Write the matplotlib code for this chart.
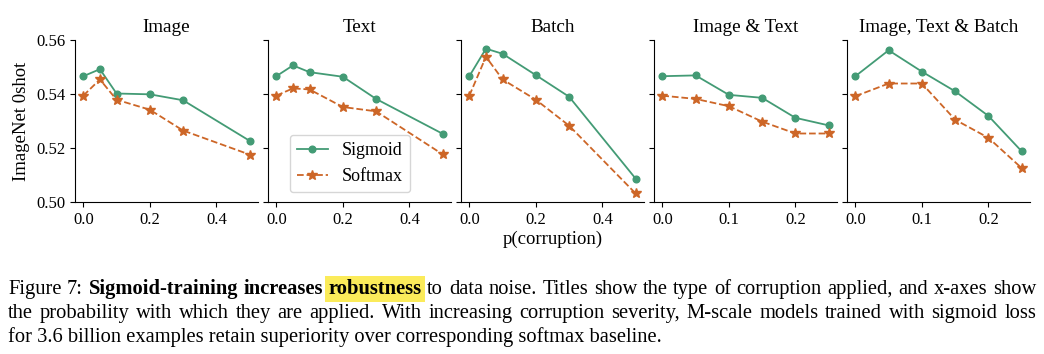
import numpy as np
import matplotlib
matplotlib.use('Agg')
import matplotlib.pyplot as plt

# values
titles = ['Image', 'Text', 'Batch', 'Image & Text', 'Image, Text & Batch']
p_long = [0.0, 0.05, 0.1, 0.2, 0.3, 0.5]
p_short = [0.0, 0.05, 0.1, 0.15, 0.2, 0.25]
xs = [p_long, p_long, p_long, p_short, p_short]

sigmoid = [
    [0.5466, 0.5492, 0.5402, 0.5399, 0.5377, 0.5227],
    [0.5466, 0.5506, 0.5481, 0.5464, 0.5382, 0.5253],
    [0.5466, 0.5568, 0.5549, 0.5470, 0.5390, 0.5087],
    [0.5466, 0.5469, 0.5397, 0.5386, 0.5312, 0.5284],
    [0.5466, 0.5562, 0.5483, 0.5410, 0.5319, 0.5188],
]
softmax = [
    [0.5394, 0.5454, 0.5379, 0.5342, 0.5265, 0.5176],
    [0.5394, 0.5421, 0.5417, 0.5352, 0.5336, 0.5177],
    [0.5394, 0.5538, 0.5454, 0.5379, 0.5283, 0.5032],
    [0.5394, 0.5382, 0.5355, 0.5298, 0.5254, 0.5254],
    [0.5392, 0.5439, 0.5439, 0.5305, 0.5238, 0.5126],
]
yticks = [0.50, 0.52, 0.54, 0.56]

caption_l1 = [('Figure', 0), ('7:', 0), ('Sigmoid-training', 1), ('increases', 1),
              ('robustness', 2), ('to', 0), ('data', 0), ('noise.', 0), ('Titles', 0),
              ('show', 0), ('the', 0), ('type', 0), ('of', 0), ('corruption', 0),
              ('applied,', 0), ('and', 0), ('x-axes', 0), ('show', 0)]
caption_l2 = ('the probability with which they are applied.  With increasing corruption '
              'severity, M-scale models trained with sigmoid loss')
caption_l3 = 'for 3.6 billion examples retain superiority over corresponding softmax baseline.'

GREEN = '#439b75'
ORANGE = '#cd6627'
W, H = 1044, 354

plt.rcParams['font.family'] = ['Liberation Serif', 'DejaVu Serif']

fig, axes = plt.subplots(1, 5, figsize=(W/100., H/100.), dpi=100, sharey=True)
plt.subplots_adjust(left=0.0718, right=0.9866, bottom=0.429, top=0.887, wspace=0.055)

for i, a in enumerate(axes):
    a.plot(xs[i], sigmoid[i], color=GREEN, marker='o', ms=4.8, lw=1.3, ls='-', label='Sigmoid')
    a.plot(xs[i], softmax[i], color=ORANGE, marker='*', ms=7, lw=1.3, ls='--', label='Softmax')
    a.set_title(titles[i], fontsize=13.8)
    a.spines['top'].set_visible(False)
    a.spines['right'].set_visible(False)
    a.tick_params(labelsize=12)
    a.set_xticks(np.arange(0, max(xs[i]) + 0.01, 0.2 if max(xs[i]) > 0.3 else 0.1))

axes[0].set_ylim(0.50, 0.56)
axes[0].set_yticks(yticks)
axes[0].set_yticklabels(['%.2f' % v for v in yticks])
axes[0].set_ylabel('ImageNet 0shot', fontsize=13.5)
axes[2].set_xlabel('p(corruption)', fontsize=13.5, labelpad=2)
axes[1].legend(loc='lower left', bbox_to_anchor=(0.07, 0.005), fontsize=13,
               handlelength=1.7, borderaxespad=0.5)

# caption, first two lines justified to the figure width
CAP_FS = 14.8
x_left, x_right = 8., 1036.
r = fig.canvas.get_renderer()


def justify(tokens, ybase):
    texts = []
    for word, style in tokens:
        kw = {}
        if style >= 1:
            kw['fontweight'] = 'bold'
        if style == 2:
            kw['bbox'] = dict(facecolor='#fbeb5a', edgecolor='none', pad=2.5)
        texts.append(fig.text(0, ybase / H, word, fontsize=CAP_FS, va='baseline', **kw))
    widths = [t.get_window_extent(r).width for t in texts]
    gap = (x_right - x_left - sum(widths)) / (len(texts) - 1)
    x = x_left
    for t, w in zip(texts, widths):
        t.set_x(x / W)
        x += w + gap


justify(caption_l1, H - 294.)
justify([(w, 0) for w in caption_l2.split()], H - 318.)
fig.text(x_left / W, (H - 342.) / H, caption_l3, fontsize=CAP_FS, va='baseline')

fig.savefig('out.png', dpi=100)
